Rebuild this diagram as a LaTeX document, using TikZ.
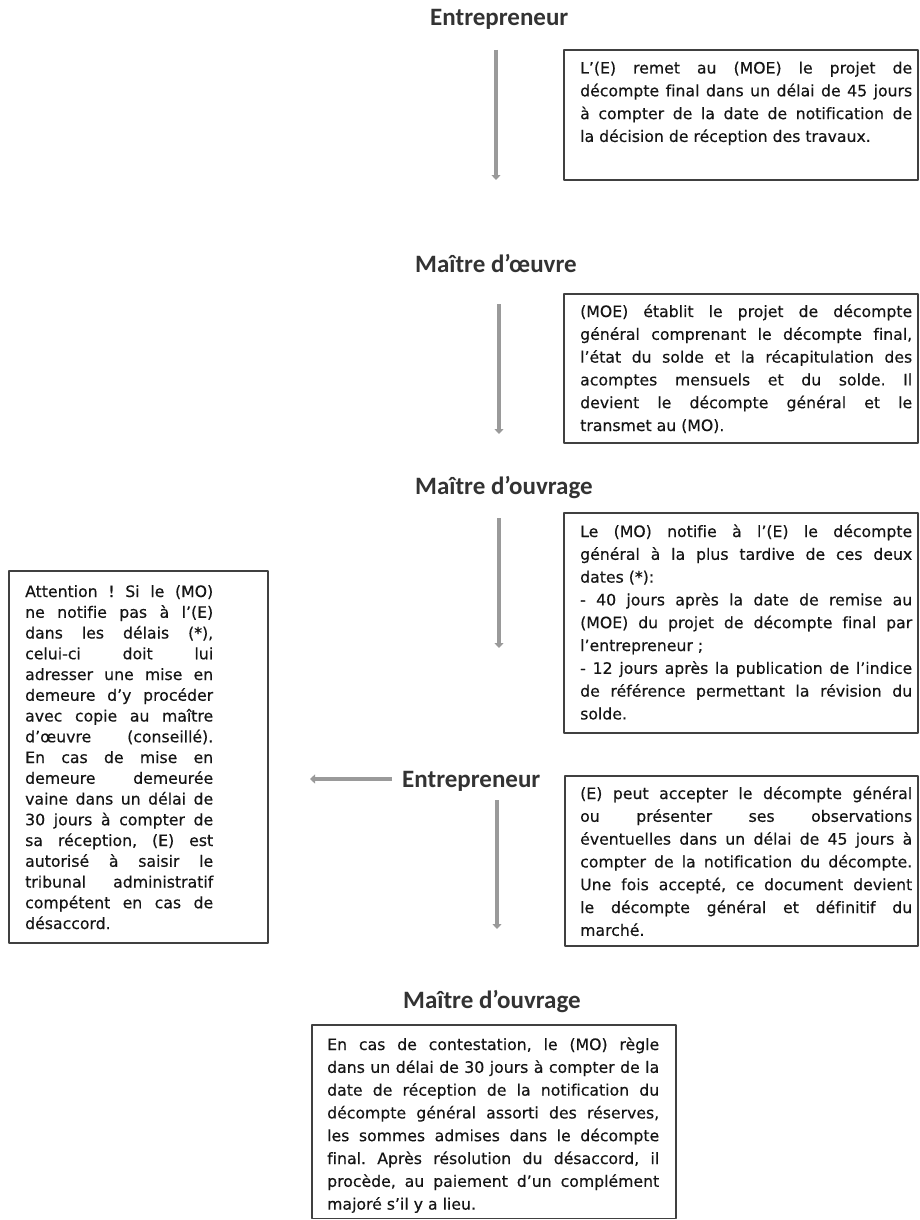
\documentclass[tikz,border=0pt]{standalone}
\usepackage{fontspec}
\setmainfont{DejaVu Sans}[Ligatures=NoCommon, FakeBold=0.4]
\newfontfamily\headfont{Carlito}[Ligatures=NoCommon]
\usetikzlibrary{arrows.meta}
\definecolor{headgray}{HTML}{333333}
\definecolor{textgray}{HTML}{151515}
\definecolor{framegray}{HTML}{404040}
\definecolor{flowgray}{HTML}{9A9A9A}
\hyphenpenalty=10000 \exhyphenpenalty=10000
\tolerance=10000 \hbadness=10000
\frenchspacing
\tikzset{
  head/.style={anchor=base west, inner sep=0pt, text=headgray,
    font=\headfont\bfseries\fontsize{25pt}{30pt}\selectfont},
  note/.style={anchor=base west, inner sep=0pt, text width=332pt, align=justify,
    text=textgray, font=\fontsize{15.7pt}{22.8pt}\selectfont},
  frame/.style={draw=framegray, line width=1.2pt},
  flow/.style={draw=flowgray, line width=3.8pt, -{Triangle[width=9pt,length=5pt]}}
}
\begin{document}
\begin{tikzpicture}[x=1pt, y=-1pt, line join=round]
\useasboundingbox (0,0) rectangle (919,1220);
% actors
\node[head] (ent1) at (430,26) {Entrepreneur};
\node[head] (moe) at (415,272) {Maître d’œuvre};
\node[head] (mo1) at (415,494) {Maître d’ouvrage};
\node[head] (ent2) at (402,787) {Entrepreneur};
\node[head] (mo2) at (403,1008) {Maître d’ouvrage};
% vertical flow
\foreach \x/\ya/\yb [count=\i] in {496/50/180, 499/304/434, 499/518/648, 497/800/929}{
  \coordinate (s\i) at (\x,\ya);
  \coordinate (e\i) at (\x,\yb);
  \draw[flow] (s\i) -- (e\i);
}
\coordinate (ls) at (392,779);
\coordinate (le) at (310,779);
\draw[flow] (ls) -- (le);
% frames
\draw[frame] (564,50) rectangle (918,180);
\draw[frame] (564,294) rectangle (918,443);
\draw[frame] (564,513) rectangle (918,733);
\draw[frame] (565,776) rectangle (918,946);
\draw[frame] (9,571) rectangle (268,943);
\draw[frame] (312,1025) rectangle (676,1218.5);
% texts
\node[note] (t1) at (580,73.5) {L’(E) remet au (MOE) le projet de\linebreak
décompte final dans un délai de 45 jours\linebreak
à compter de la date de notification de\linebreak
la décision de réception des travaux.};
\node[note] (t2) at (580,317) {(MOE) établit le projet de décompte\linebreak
général comprenant le décompte final,\linebreak
l’état du solde et la récapitulation des\linebreak
acomptes mensuels et du solde. Il\linebreak
devient le décompte général et le\linebreak
transmet au (MO).};
\node[note] (t3) at (580,537) {Le (MO) notifie à l’(E) le décompte\linebreak
général à la plus tardive de ces deux\linebreak
dates (*):\\
- 40 jours après la date de remise au\linebreak
(MOE) du projet de décompte final par\linebreak
l’entrepreneur ;\\
- 12 jours après la publication de l’indice\linebreak
de référence permettant la révision du\linebreak
solde.};
\node[note] (t4) at (580,799) {(E) peut accepter le décompte général\linebreak
ou présenter ses observations\linebreak
éventuelles dans un délai de 45 jours à\linebreak
compter de la notification du décompte.\linebreak
Une fois accepté, ce document devient\linebreak
le décompte général et définitif du\linebreak
marché.};
\node[note, text width=188pt, font=\fontsize{15.7pt}{20.75pt}\selectfont] (t5) at (25,597) {Attention ! Si le (MO)\linebreak
ne notifie pas à l’(E)\linebreak
dans les délais (*),\linebreak
celui-ci doit lui\linebreak
adresser une mise en\linebreak
demeure d’y procéder\linebreak
avec copie au maître\linebreak
d’œuvre (conseillé).\linebreak
En cas de mise en\linebreak
demeure demeurée\linebreak
vaine dans un délai de\linebreak
30 jours à compter de\linebreak
sa réception, (E) est\linebreak
autorisé à saisir le\linebreak
tribunal administratif\linebreak
compétent en cas de\linebreak
désaccord.};
\node[note] (t6) at (327,1050) {En cas de contestation, le (MO) règle\linebreak
dans un délai de 30 jours à compter de la\linebreak
date de réception de la notification du\linebreak
décompte général assorti des réserves,\linebreak
les sommes admises dans le décompte\linebreak
final. Après résolution du désaccord, il\linebreak
procède, au paiement d’un complément\linebreak
majoré s’il y a lieu.};
\end{tikzpicture}
\end{document}
